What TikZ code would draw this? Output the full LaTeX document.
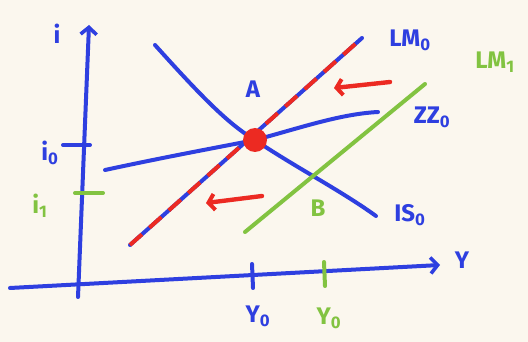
\documentclass[tikz,border=0pt]{standalone}
\usepackage{fontspec}
\setmainfont{Fira Sans}
\usetikzlibrary{arrows.meta}
\definecolor{pen}{HTML}{2E3FE0}
\definecolor{penred}{HTML}{EC2A22}
\definecolor{pengreen}{HTML}{82C341}
\definecolor{paper}{HTML}{FBF7EE}
\tikzset{
  stroke/.style={line width=4pt, line cap=round, line join=round, draw=#1},
  axis/.style={stroke=pen, -{Straight Barb[length=7pt,width=16pt,line width=3.6pt]}},
  redarr/.style={stroke=penred, line width=4.4pt, -{Straight Barb[length=6pt,width=16pt,line width=4pt]}},
  lab/.style={font=\fontsize{24}{26}\selectfont\bfseries, text=#1, inner sep=1pt},
}

\begin{document}
\begin{tikzpicture}[x=1pt,y=-1pt]
  \fill[paper] (0,0) rectangle (528,342);
  % axes
  \coordinate (yfoot) at (78,297);
  \coordinate (ytop) at (89,25);
  \coordinate (xfoot) at (10,288);
  \coordinate (xend) at (440,265);
  \draw[axis] (yfoot) -- (ytop);
  \draw[axis] (xfoot) -- (xend);
  \node[lab=pen] (ilab) at (57,34) {i};
  \node[lab=pen] (ylab) at (462,260) {Y};
  % ticks
  \draw[stroke=pen] (63,145) -- (90,145);
  \node[lab=pen] (izero) at (50,153) {i\textsubscript{0}};
  \draw[stroke=pengreen] (75,193) -- (103,193);
  \node[lab=pengreen] (ione) at (40,206) {i\textsubscript{1}};
  \draw[stroke=pen] (252,264) -- (253,288);
  \node[lab=pen] (yzero) at (258,316) {Y\textsubscript{0}};
  \draw[stroke=pengreen] (324,262) -- (325,286);
  \node[lab=pengreen] (yone) at (329,318) {Y\textsubscript{0}};
  % curves
  \coordinate (eqA) at (255,140);
  \draw[stroke=pen] (155,45) .. controls (200,95) and (228,124) .. (eqA) .. controls (295,167) and (340,190) .. (376,216);
  \draw[stroke=pen] (105,170) .. controls (170,156) and (220,147) .. (eqA) .. controls (300,128) and (340,114) .. (378,112);
  \draw[stroke=pengreen] (245,232) -- (425,84);
  \draw[stroke=pen] (130,245) -- (362,38);
  \draw[stroke=penred, line cap=butt, dash pattern=on 16pt off 10pt] (130,245) -- (362,38);
  \fill[penred] (eqA) circle (12);
  % labels
  \node[lab=pen] (lmzero) at (410,40) {LM\textsubscript{0}};
  \node[lab=pengreen] (lmone) at (495,62) {LM\textsubscript{1}};
  \node[lab=pen, fill=paper] (zzzero) at (432,117) {ZZ\textsubscript{0}};
  \node[lab=pen] (iszero) at (410,215) {IS\textsubscript{0}};
  \node[lab=pen] (ptA) at (253,89) {A};
  \node[lab=pengreen] (ptB) at (318,208) {B};
  % shift arrows
  \draw[redarr] (390,82) -- (334,88);
  \draw[redarr] (262,196) -- (206,203);
\end{tikzpicture}
\end{document}
